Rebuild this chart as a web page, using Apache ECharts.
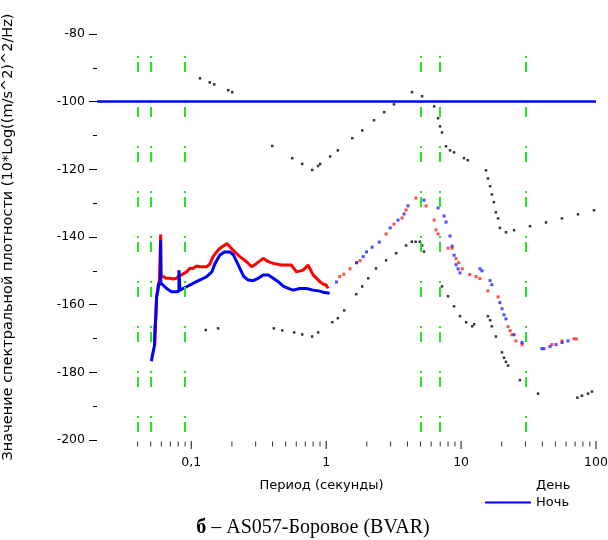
<!DOCTYPE html>
<html>
<head>
<meta charset="utf-8">
<script src="https://cdn.jsdelivr.net/npm/echarts@6/dist/echarts.min.js"></script>
<style>html,body{margin:0;padding:0;background:#fff}#c{width:608px;height:540px}</style>
</head>
<body>
<div id="c"></div>
<script>
// Period (s), PSD (dB)
var nhnmPeriod = [0.116,0.137,0.148,0.188,0.201,0.398,0.560,0.664,0.787,0.871,0.902,1.07,1.22,1.56,1.85,2.26,2.69,3.18,4.33,5.14,6.31,6.75,6.98,7.22,7.73,8.28,8.87,10.5,11.2,15.3,15.8,16.4,16.9,17.5,18.1,18.8,19.4,21.5,24.7,32.4,42.6,55.9,73.5,96.6];
var nhnmValue  = [-93.1,-94.3,-94.9,-96.6,-97.2,-113.1,-116.7,-118.4,-120.2,-119.0,-118.4,-116.2,-114.4,-110.8,-108.5,-105.5,-103.1,-100.8,-97.2,-98.4,-101.4,-104.9,-107.3,-109.1,-113.2,-114.4,-115.0,-116.7,-117.3,-120.3,-122.7,-125.0,-127.4,-129.7,-132.7,-134.5,-137.3,-138.6,-138.0,-136.8,-135.7,-134.5,-133.3,-132.1];

var nlnmPeriod = [0.128,0.158,0.409,0.472,0.579,0.664,0.787,0.871,1.11,1.22,1.36,1.67,1.85,2.05,2.34,2.78,3.30,3.91,4.31,4.6,4.94,5.14,5.31,7.22,8.00,8.87,9.82,10.9,12.1,12.5,15.8,16.4,16.9,18.1,20.1,20.8,21.5,22.3,27.3,37.2,72.8,78.7,87.3,93.3];
var nlnmValue  = [-167.5,-167.0,-167.0,-167.6,-168.2,-168.8,-169.4,-168.2,-165.2,-164.0,-161.7,-156.9,-154.6,-152.2,-149.3,-146.9,-144.8,-142.5,-141.4,-141.4,-141.4,-142.5,-144.3,-154.6,-157.5,-160.5,-163.4,-165.2,-166.4,-165.8,-163.4,-164.6,-166.4,-169.4,-174.1,-175.7,-176.9,-178.0,-182.3,-186.3,-187.5,-186.9,-186.3,-185.7];

// Day (red) – dense part
var dayPeriod = [0.0536,0.0541,0.0550,0.0553,0.0569,0.0580,0.0590,0.0593,0.0597,0.0618,0.0656,0.0695,0.0731,0.0778,0.0810,0.0847,0.0923,0.0977,0.103,0.109,0.116,0.130,0.137,0.145,0.154,0.163,0.177,0.184,0.193,0.210,0.229,0.257,0.280,0.305,0.341,0.372,0.405,0.466,0.552,0.602,0.675,0.735,0.800,0.897,0.948,1.00,1.03];
var dayValue  = [-171.9,-165.7,-160.1,-157.7,-154.2,-153.0,-152.7,-139.3,-151.5,-151.7,-152.2,-152.2,-152.4,-152.2,-151.5,-151.2,-150.3,-149.2,-149.3,-148.6,-148.8,-148.8,-148.0,-145.8,-144.4,-143.3,-142.4,-141.9,-142.9,-144.4,-145.8,-147.3,-148.8,-147.8,-146.3,-147.3,-147.8,-148.3,-148.3,-150.3,-149.8,-148.3,-151.2,-153.2,-153.9,-154.2,-155.2];
// Day (red) – sparse points
var dayDotPeriod = [1.26,1.35,1.50,1.68,1.78,2.78,3.18,3.65,3.91,4.63,5.50,6.31,6.52,6.75,8.00,8.57,9.17,9.6,10.2,11.6,12.9,13.8,15.8,18.8,22.3,23.1,23.8,25.5,28.3,47.1,56.0,68.7,71.5];
var dayDotValue  = [-151.7,-151.0,-149.4,-147.6,-147.0,-139.1,-136.2,-134.4,-132.0,-128.5,-130.8,-135.0,-137.9,-139.1,-143.3,-143.3,-146.4,-147.6,-149.4,-151.1,-151.7,-152.3,-155.9,-157.7,-166.5,-167.7,-168.9,-170.7,-171.8,-171.8,-170.7,-170.1,-170.1];

// Night (blue) – dense part
var nightPeriod = [0.0507,0.0515,0.0533,0.0538,0.0547,0.0553,0.0566,0.0576,0.0590,0.0592,0.0595,0.0656,0.0714,0.0778,0.0809,0.0810,0.0824,0.0847,0.0923,0.103,0.116,0.130,0.142,0.150,0.163,0.177,0.193,0.205,0.217,0.229,0.245,0.264,0.288,0.313,0.341,0.372,0.405,0.441,0.480,0.523,0.569,0.638,0.714,0.800,0.897,0.948,1.06];
var nightValue  = [-176.7,-174.9,-172.2,-167.5,-163.1,-157.7,-155.7,-153.6,-154.2,-141.0,-153.6,-155.2,-156.2,-156.2,-156.0,-149.8,-155.7,-155.2,-154.7,-153.7,-152.7,-151.7,-150.3,-147.8,-145.3,-144.4,-144.4,-145.3,-147.3,-149.3,-151.7,-152.7,-152.9,-152.2,-151.2,-151.2,-152.2,-153.2,-154.5,-155.2,-155.7,-155.2,-155.2,-155.7,-156.0,-156.3,-156.6];
// Night (blue) – sparse points
var nightDotPeriod = [1.19,1.68,1.88,1.99,2.19,2.47,2.98,3.41,3.78,4.04,5.31,6.75,7.48,7.73,8.28,8.57,8.87,9.17,9.5,9.82,13.8,14.3,16.4,16.9,19.4,20.1,20.8,21.5,24.7,28.3,39.7,41.1,45.6,50.5,56.0,62.0];
var nightDotValue  = [-153.3,-147.6,-145.8,-144.4,-143.0,-141.5,-137.3,-135.0,-133.2,-130.8,-129.1,-131.4,-133.8,-135.6,-139.7,-142.7,-145.4,-148.2,-149.4,-150.6,-149.4,-150.0,-152.9,-154.1,-159.4,-161.2,-163.0,-164.2,-168.9,-171.2,-173.0,-173.0,-172.4,-171.8,-171.2,-170.7];

var markerPeriods = [0.04, 0.05, 0.09, 5, 7, 30];
var refLevel = -100;
var xMajorTicks = [0.1, 1, 10, 100];
var xMinorTicks = [0.04,0.05,0.06,0.07,0.08,0.09,0.2,0.3,0.4,0.5,0.6,0.7,0.8,0.9,2,3,4,5,6,7,8,9,20,30,40,50,60,70,80,90];
var yTicks = [-200, -180, -160, -140, -120, -100, -80];

function zip(a, b) { return a.map(function (v, i) { return [v, b[i]]; }); }
var yMin = yTicks[0], yMax = yTicks[yTicks.length - 1];

var chart = echarts.init(document.getElementById('c'), null, {renderer: 'canvas'});
var font = 'DejaVu Sans, sans-serif';
var option = {
  animation: false,
  backgroundColor: '#ffffff',
  title: {
    text: '{b|б} – AS057-Боровое (BVAR)',
    left: 308, textAlign: 'center', top: 513,
    textStyle: {
      fontFamily: 'Liberation Serif, Times New Roman, serif', fontSize: 20, fontWeight: 'normal', color: '#000',
      rich: { b: { fontFamily: 'Liberation Serif, serif', fontSize: 20, fontWeight: 'bold', color: '#000' } }
    }
  },
  legend: {
    orient: 'vertical', left: 480, top: 474, itemGap: 4, itemWidth: 46, itemHeight: 2,
    icon: 'rect',
    textStyle: { fontFamily: font, fontSize: 13, color: '#000' },
    data: [
      { name: 'День', itemStyle: { opacity: 0 } },
      { name: 'Ночь' }
    ]
  },
  grid: { left: 97, right: 12, top: 34, bottom: 100, containLabel: false, outerBoundsMode: 'none' },
  xAxis: {
    type: 'log', logBase: 10, min: 0.02, max: 100,
    name: 'Период (секунды)', nameLocation: 'middle', nameGap: 39,
    nameTextStyle: { fontFamily: font, fontSize: 13, color: '#000', padding: [0, 50, 0, 0] },
    axisLine: { show: false }, axisTick: { show: false },
    splitLine: { show: false },
    axisLabel: {
      fontFamily: font, fontSize: 12.5, color: '#000', margin: 16, hideOverlap: false,
      formatter: function (v) {
        var l = Math.log10(v);
        if (Math.abs(l - Math.round(l)) > 1e-6) return '';
        return String(Number(v.toPrecision(6))).replace('.', ',');
      }
    }
  },
  yAxis: {
    type: 'value', min: yMin, max: yMax, interval: 20,
    name: 'Значение спектральной плотности (10*Log((m/s^2)^2/Hz)',
    nameLocation: 'middle', nameGap: 81,
    nameTextStyle: { fontFamily: font, fontSize: 14.5, color: '#000' },
    axisLine: { show: false },
    axisTick: { show: true, length: 8, lineStyle: { color: '#000' } },
    minorTick: { show: true, splitNumber: 2, length: 4, lineStyle: { color: '#000' } },
    splitLine: { show: false },
    axisLabel: { fontFamily: font, fontSize: 12.5, color: '#000', margin: 12 }
  },
  series: [
    {
      name: 'markers', type: 'line', data: [], silent: true,
      markLine: {
        silent: true, symbol: 'none', label: { show: false },
        lineStyle: { color: '#22e622', width: 2, type: [10, 4, 2, 29], dashOffset: 37 },
        data: markerPeriods.map(function (p) { return { xAxis: p }; })
      }
    },
    {
      name: 'ref', type: 'line', data: [], silent: true,
      markLine: {
        silent: true, symbol: 'none', label: { show: false },
        lineStyle: { color: '#0000ff', width: 2.5, type: 'solid' },
        data: [{ yAxis: refLevel }]
      }
    },
    {
      name: 'NHNM', type: 'scatter', symbol: 'rect', symbolSize: 2.5,
      itemStyle: { color: '#000' }, data: zip(nhnmPeriod, nhnmValue), silent: true
    },
    {
      name: 'NLNM', type: 'scatter', symbol: 'rect', symbolSize: 2.5,
      itemStyle: { color: '#000' }, data: zip(nlnmPeriod, nlnmValue), silent: true
    },
    {
      name: 'День', type: 'line', showSymbol: false, symbol: 'none',
      lineStyle: { color: '#ff0000', width: 3 }, itemStyle: { color: '#ff0000' },
      data: zip(dayPeriod, dayValue)
    },
    {
      name: 'День', type: 'scatter', symbol: 'rect', symbolSize: 3,
      itemStyle: { color: '#ff2020' }, data: zip(dayDotPeriod, dayDotValue)
    },
    {
      name: 'Ночь', type: 'line', showSymbol: false, symbol: 'none',
      lineStyle: { color: '#0000ff', width: 3 }, itemStyle: { color: '#0000ff' },
      data: zip(nightPeriod, nightValue)
    },
    {
      name: 'Ночь', type: 'scatter', symbol: 'rect', symbolSize: 3,
      itemStyle: { color: '#2020ff' }, data: zip(nightDotPeriod, nightDotValue)
    },
    {
      name: 'xMinor', type: 'scatter', symbol: 'rect', symbolSize: [1, 5], symbolOffset: [0, 4],
      itemStyle: { color: '#000' }, silent: true, clip: false,
      data: xMinorTicks.map(function (t) { return [t, yMin]; })
    },
    {
      name: 'xMajor', type: 'scatter', symbol: 'rect', symbolSize: [1.2, 8], symbolOffset: [0, 5],
      itemStyle: { color: '#000' }, silent: true, clip: false,
      data: xMajorTicks.map(function (t) { return [t, yMin]; })
    }
  ]
};
chart.setOption(option);
</script>
</body>
</html>
